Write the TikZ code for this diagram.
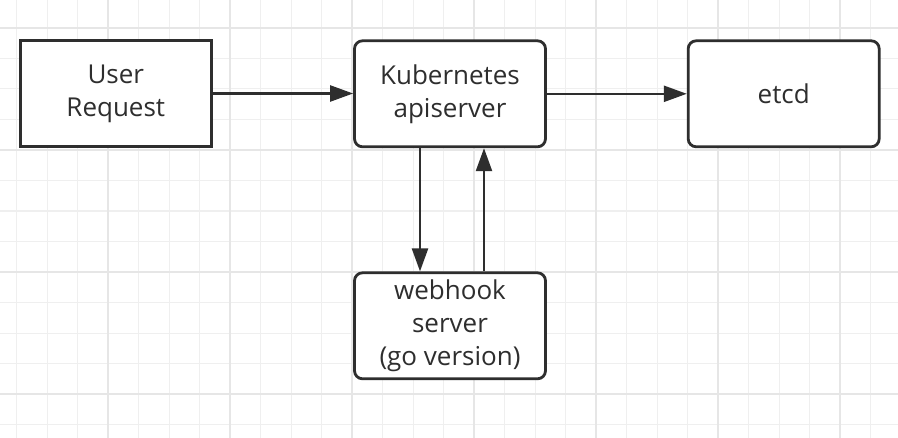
\documentclass[tikz,border=0pt]{standalone}
\usepackage{fontspec}
\setmainfont{Open Sans}
\usetikzlibrary{arrows.meta}
\definecolor{ink}{HTML}{2E2E2E}
\definecolor{gridminor}{HTML}{EFEFEF}
\definecolor{gridmajor}{HTML}{E6E6E6}
\tikzset{
  box/.style={draw=ink, line width=2.8pt, fill=white, text=ink,
    minimum width=191pt, minimum height=106pt, inner sep=0pt, align=center,
    font=\fontsize{26}{33}\selectfont},
  roundbox/.style={box, rounded corners=8pt},
  conn/.style={draw=ink, line width=2.4pt, -{Triangle[length=23pt,width=16pt]}},
  minorline/.style={draw=gridminor, line width=1.3pt},
  majorline/.style={draw=gridmajor, line width=1.8pt},
}
\begin{document}
\begin{tikzpicture}[x=1pt,y=-1pt]
\useasboundingbox (0,0) rectangle (898,438);
\fill[white] (0,0) rectangle (898,438);
\foreach \k in {0,...,28}
  \draw[minorline] ({16.8+30.5*\k},0) -- ({16.8+30.5*\k},438);
\foreach \k in {0,...,14}
  \draw[minorline] (0,{-2.85+30.55*\k}) -- (898,{-2.85+30.55*\k});
\foreach \k in {0,...,6}
  \draw[majorline] ({108.3+122*\k},0) -- ({108.3+122*\k},438);
\foreach \k in {0,...,3}
  \draw[majorline] (0,{27.7+122.2*\k}) -- (898,{27.7+122.2*\k});

\node[box] (user) at (115.8,93.5) {User\\Request};
\node[roundbox] (api) at (450,93.8) {Kubernetes\\apiserver};
\node[roundbox] (etcd) at (783.7,93.8) {etcd};
\node[roundbox] (hook) at (450,325.8) {webhook\\server\\(go version)};

\draw[conn] (user.east) -- (user.east -| api.west);
\draw[conn] (api.east) -- (etcd.west);
\draw[conn] ([xshift=-30pt]api.south) -- ([xshift=-30pt]hook.north);
\draw[conn] ([xshift=34pt]hook.north) -- ([xshift=34pt]api.south);
\end{tikzpicture}
\end{document}
